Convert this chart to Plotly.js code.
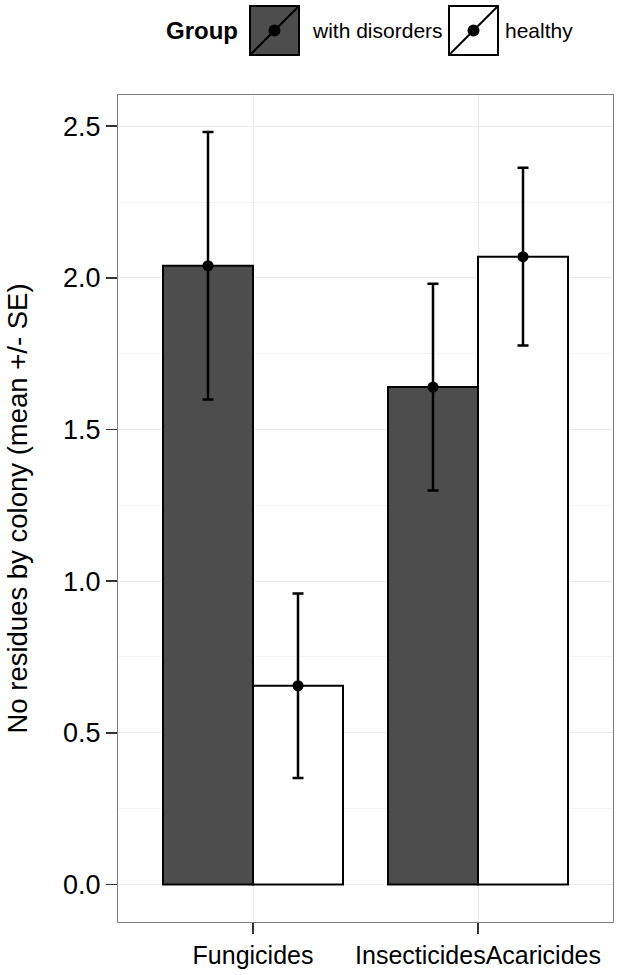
<!DOCTYPE html>
<html>
<head>
<meta charset="utf-8">
<script src="https://cdn.plot.ly/plotly-3.0.1.min.js"></script>
<style>
  html, body { margin: 0; padding: 0; background: #ffffff; }
  #chart { width: 619px; height: 975px; }
</style>
</head>
<body>
<div id="chart"></div>
<script>
// ---- data ----
const categories = ['Fungicides', 'InsecticidesAcaricides'];
const groupNames = ['with disorders', 'healthy'];
const meanDisorders = [2.04, 1.64];
const meanHealthy = [0.655, 2.07];
const seDisorders = [0.441, 0.341];
const seHealthy = [0.304, 0.293];
const yTickVals = [0, 0.5, 1, 1.5, 2, 2.5];
const yTickText = ['0.0', '0.5', '1.0', '1.5', '2.0', '2.5'];
const legendTitle = 'Group';
const yTitle = 'No residues by colony (mean +/- SE)';

// ---- styling ----
const FONT = 'Liberation Sans, Arial, sans-serif';
const fillColors = ['#4d4d4d', '#ffffff'];
const W = 619, H = 975;
const M = { l: 118, r: 6, t: 95, b: 53 };

const means = [meanDisorders, meanHealthy];
const ses = [seDisorders, seHealthy];

const traces = [];
groupNames.forEach((g, i) => {
  traces.push({
    type: 'bar', name: g, x: categories, y: means[i],
    offsetgroup: 'g' + i,
    marker: { color: fillColors[i], line: { color: '#000000', width: 2 } },
    showlegend: false, hoverinfo: 'skip'
  });
});
groupNames.forEach((g, i) => {
  traces.push({
    type: 'scatter', mode: 'markers', name: g, x: categories, y: means[i],
    offsetgroup: 'g' + i,
    marker: { color: '#000000', size: 11 },
    error_y: { type: 'data', array: ses[i], visible: true, color: '#000000', thickness: 2.5, width: 5.5 },
    showlegend: false, hoverinfo: 'skip', cliponaxis: false
  });
});

// helpers to place legend pieces in paper coords from pixel positions
const pw = W - M.l - M.r, ph = H - M.t - M.b;
const px = x => (x - M.l) / pw;
const py = y => (H - M.b - y) / ph;

const shapes = [];
const annotations = [];
annotations.push({
  xref: 'paper', yref: 'paper', x: px(164), y: py(31), xanchor: 'left', yanchor: 'middle',
  text: '<b>' + legendTitle + '</b>', showarrow: false,
  font: { family: FONT, size: 24, color: '#000000' }
});
const boxX = [250, 449];
const labelX = [310, 503];
groupNames.forEach((g, i) => {
  const x0 = boxX[i], x1 = boxX[i] + 49, y0 = 6, y1 = 55;
  shapes.push({ type: 'rect', xref: 'paper', yref: 'paper', x0: px(x0), x1: px(x1), y0: py(y1), y1: py(y0),
    fillcolor: fillColors[i], line: { color: '#000000', width: 2 } });
  shapes.push({ type: 'line', xref: 'paper', yref: 'paper', x0: px(x0), y0: py(y1), x1: px(x1), y1: py(y0),
    line: { color: '#000000', width: 2 } });
  const cx = (x0 + x1) / 2, cy = (y0 + y1) / 2, r = 6;
  shapes.push({ type: 'circle', xref: 'paper', yref: 'paper', x0: px(cx - r), x1: px(cx + r), y0: py(cy + r), y1: py(cy - r),
    fillcolor: '#000000', line: { color: '#000000', width: 0 } });
  annotations.push({
    xref: 'paper', yref: 'paper', x: px(labelX[i]), y: py(31), xanchor: 'left', yanchor: 'middle',
    text: g, showarrow: false, font: { family: FONT, size: 21, color: '#000000' }
  });
});

const layout = {
  width: W, height: H,
  margin: M,
  paper_bgcolor: '#ffffff', plot_bgcolor: '#ffffff',
  barmode: 'group', bargap: 0.2, bargroupgap: 0,
  scattermode: 'group', scattergap: 0.2,
  showlegend: false,
  font: { family: FONT, color: '#000000' },
  xaxis: {
    type: 'category', range: [-0.6, 1.6], automargin: false,
    showgrid: true, gridcolor: '#ebebeb', gridwidth: 1,
    ticks: 'outside', ticklen: 11, tickwidth: 1.5, tickcolor: '#333333',
    showline: true, mirror: true, linecolor: '#7f7f7f', linewidth: 1,
    zeroline: false, tickfont: { family: FONT, size: 25, color: '#000000' }
  },
  yaxis: {
    range: [-0.124, 2.603], automargin: false,
    tickmode: 'array', tickvals: yTickVals, ticktext: yTickText,
    showgrid: true, gridcolor: '#ebebeb', gridwidth: 1,
    minor: { dtick: 0.25, tick0: 0, showgrid: true, gridcolor: '#f4f4f4', gridwidth: 1, ticks: '' },
    ticks: 'outside', ticklen: 11, tickwidth: 1.5, tickcolor: '#333333',
    showline: true, mirror: true, linecolor: '#7f7f7f', linewidth: 1,
    zeroline: false, tickfont: { family: FONT, size: 27, color: '#000000' },
    title: { text: yTitle, font: { family: FONT, size: 27.5, color: '#000000' }, standoff: 27 }
  },
  shapes: shapes,
  annotations: annotations
};

Plotly.newPlot('chart', traces, layout, { staticPlot: true, displayModeBar: false });
</script>
</body>
</html>
